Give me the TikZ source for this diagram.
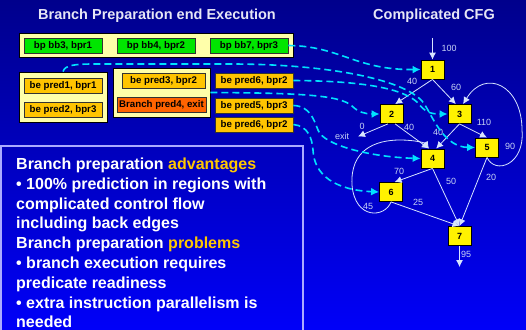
\documentclass[tikz,border=0pt]{standalone}
\usepackage{fontspec}
\setmainfont{Liberation Sans}
\usetikzlibrary{arrows.meta,calc}
\definecolor{bgtop}{RGB}{0,0,140}
\definecolor{bgbot}{RGB}{0,0,248}
\definecolor{lyel}{RGB}{255,255,170}
\definecolor{gfill}{RGB}{0,230,0}
\definecolor{ofill}{RGB}{255,196,0}
\definecolor{rfill}{RGB}{255,100,0}
\definecolor{dcyan}{RGB}{0,225,255}
\definecolor{edgec}{RGB}{215,228,255}
\definecolor{lblc}{RGB}{200,212,245}
\definecolor{titc}{RGB}{230,230,245}
\definecolor{hiorange}{RGB}{255,200,0}
\definecolor{panelc}{RGB}{170,170,255}
\begin{document}
\begin{tikzpicture}[x=1pt,y=-1pt,
  ybox/.style={draw=black,fill=lyel,line width=0.9pt,inner sep=0pt},
  sbox/.style={draw=black!80,line width=0.8pt,inner sep=0pt,minimum width=78pt,minimum height=15pt,
    font=\bfseries\fontsize{9.7}{10}\selectfont,text=black},
  gbox/.style={sbox,fill=gfill},
  obox/.style={sbox,fill=ofill},
  rbox/.style={sbox,fill=rfill},
  cfg/.style={draw=black,fill=yellow,line width=0.8pt,inner sep=0pt,minimum width=23pt,minimum height=19pt,
    font=\bfseries\fontsize{9}{10}\selectfont,text=black},
  edge/.style={draw=edgec,line width=0.8pt,-{Latex[length=7pt,width=7pt]}},
  dashc/.style={draw=dcyan,line width=1.6pt,dash pattern=on 7pt off 4pt,-{Latex[length=8pt,width=8pt]}},
  lbl/.style={text=lblc,inner sep=0pt,font=\fontsize{9}{10}\selectfont},
  ttl/.style={text=titc,inner sep=0pt,font=\bfseries\fontsize{14.5}{16}\selectfont},
  ptxt/.style={text=white,inner sep=0pt,anchor=base west,font=\bfseries\fontsize{16}{19}\selectfont}]
\useasboundingbox (0,0) rectangle (526,329);
\shade[top color=bgtop,bottom color=bgbot] (0,0) rectangle (526,329);

% titles
\node[ttl] (t1) at (157,16) {Branch Preparation end Execution};
\node[ttl] (t2) at (434,16) {Complicated CFG};

% left boxes
\node[ybox,minimum width=274pt,minimum height=24pt] (g1) at (156,45) {};
\node[gbox] (bb3) at (63,45.5) {bp bb3, bpr1};
\node[gbox] (bb4) at (156,45.5) {bp bb4, bpr2};
\node[gbox] (bb7) at (249,45.5) {bp bb7, bpr3};

\node[ybox,minimum width=88pt,minimum height=50pt] (g2) at (63,97) {};
\node[obox] (p1) at (63,85.5) {be pred1, bpr1};
\node[obox] (p2) at (63,109.5) {be pred2, bpr3};

\node[ybox,minimum width=97pt,minimum height=49pt] (g3) at (161.5,92.5) {};
\node[obox,minimum width=83pt] (p3) at (163.5,80.5) {be pred3, bpr2};
\node[rbox,minimum width=89pt] (p4) at (161.5,104.5) {Branch pred4, exit};

\node[obox] (p6a) at (254,80.5) {be pred6, bpr2};
\node[obox] (p5) at (254,105.5) {be pred5, bpr3};
\node[obox] (p6b) at (254,124.5) {be pred6, bpr2};

% panel
\draw[draw=panelc,line width=1.5pt] (0.8,340) -- (0.8,146) -- (303,146) -- (303,340);
\node[ptxt] (l1) at (16,169.5) {Branch preparation \textcolor{hiorange}{advantages}};
\node[ptxt] (l2) at (16,189.3) {• 100\% prediction in regions with};
\node[ptxt] (l3) at (16,209.1) {complicated control flow};
\node[ptxt] (l4) at (16,228.9) {including back edges};
\node[ptxt] (l5) at (16,248.7) {Branch preparation \textcolor{hiorange}{problems}};
\node[ptxt] (l6) at (16,268.5) {• branch execution requires};
\node[ptxt] (l7) at (16,288.3) {predicate readiness};
\node[ptxt] (l8) at (16,308.1) {• extra instruction parallelism is};
\node[ptxt] (l9) at (16,327.9) {needed};

% CFG nodes
\node[cfg] (n1) at (432.5,69.5) {1};
\node[cfg] (n2) at (391.5,114) {2};
\node[cfg] (n3) at (459.5,114) {3};
\node[cfg] (n4) at (432.5,158.5) {4};
\node[cfg] (n5) at (487,147.5) {5};
\node[cfg] (n6) at (391,192) {6};
\node[cfg] (n7) at (459.5,236) {7};
\coordinate (cin) at (432.5,38);
\coordinate (cexit) at (358,136.5);
\coordinate (cout) at (459.5,267);

% CFG edges
\draw[edge] (cin) -- (n1.north);
\draw[edge] (n1.south) -- (n2.70);
\draw[edge] (n1.south) -- (n3.110);
\draw[edge] (n2.250) -- (cexit);
\draw[edge] (n2.290) -- (n4.110);
\draw[edge] (n3.south) -- (n4.70);
\draw[edge] (n3.south) -- (n5.north);
\draw[edge] (n4.south) -- (n6.70);
\draw[edge] (n4.south) -- (n7.north);
\draw[edge] (n5.south) -- (n7.north);
\draw[edge] (n6.south) -- (n7.north);
\draw[edge] (n7.south) -- (cout);
\draw[edge] (n5.south) .. controls (495,175) and (525,165) .. (522,130)
  .. controls (522,85) and (485,68) .. (n3.70);
\draw[edge] (n6.south) .. controls (385,218) and (355,220) .. (352,185)
  .. controls (350,150) and (375,140) .. (400,140)
  .. controls (415,140) and (425,143) .. (n4.110);

% labels
\node[lbl] (e100) at (449,48) {100};
\node[lbl] (e40a) at (412,81) {40};
\node[lbl] (e60) at (456,87) {60};
\node[lbl] (e110) at (484,122) {110};
\node[lbl] (e0) at (362,126) {0};
\node[lbl] (eexit) at (342,136) {exit};
\node[lbl] (e40b) at (409,127) {40};
\node[lbl] (e40c) at (438,132) {40};
\node[lbl] (e90) at (510,146) {90};
\node[lbl] (e70) at (399,171) {70};
\node[lbl] (e50) at (451,181) {50};
\node[lbl] (e20) at (491,177) {20};
\node[lbl] (e45) at (368,206) {45};
\node[lbl] (e25) at (418,202) {25};
\node[lbl] (e95) at (466,254) {95};

% dashed connectors
\draw[dashc] (bb7.east) .. controls (340,46) and (355,70) .. (n1.west);
\draw[dashc] (g2.north) .. controls (65,65) and (75,64) .. (95,64) -- (230,64)
  .. controls (330,64) and (410,80) .. (425,105)
  .. controls (434,120) and (445,147) .. (n5.west);
\draw[dashc] (p6a.east) .. controls (370,81) and (405,90) .. (418,103)
  .. controls (425,112) and (430,114) .. (n3.west);
\draw[dashc] (g3.east) .. controls (300,93) and (340,95) .. (352,106)
  .. controls (358,112) and (365,114) .. (n2.west);
\draw[dashc] (p5.east) .. controls (310,106) and (314,120) .. (318,130)
  .. controls (323,145) and (370,157) .. (n4.west);
\draw[dashc] (p6b.east) .. controls (308,126) and (312,138) .. (313,150)
  .. controls (314,175) and (335,190) .. (n6.west);
\end{tikzpicture}
\end{document}
